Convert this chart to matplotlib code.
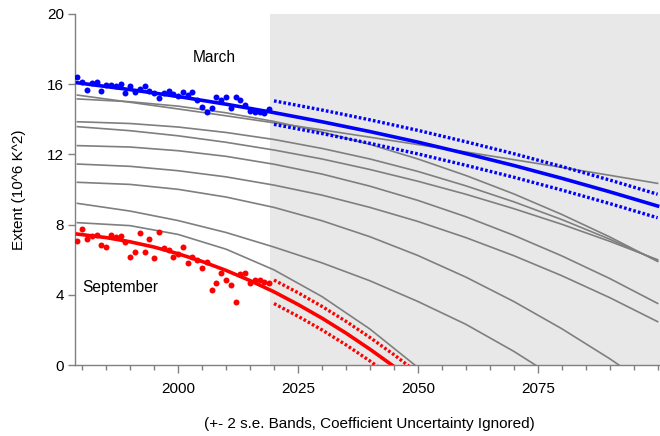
import matplotlib
matplotlib.use("Agg")
import matplotlib.pyplot as plt
from matplotlib.ticker import MultipleLocator

plt.rcParams['font.family'] = ['Liberation Sans', 'DejaVu Sans']

# ---- observed data (1979-2019) ----
obs_years = list(range(1979, 2020))
march_obs = [16.39, 16.12, 15.67, 16.09, 16.15, 15.61, 15.95, 15.95, 15.90, 16.01,
             15.48, 15.90, 15.54, 15.71, 15.90, 15.61, 15.52, 15.19, 15.52, 15.63,
             15.44, 15.33, 15.57, 15.40, 15.54, 15.10, 14.72, 14.43, 14.62, 15.29,
             15.10, 15.25, 14.62, 15.29, 15.10, 14.81, 14.49, 14.43, 14.43, 14.38, 14.57]
sept_obs = [7.08, 7.73, 7.16, 7.35, 7.41, 6.84, 6.74, 7.41, 7.31, 7.35,
            7.03, 6.14, 6.46, 7.50, 6.42, 7.16, 6.08, 7.58, 6.65, 6.55,
            6.17, 6.31, 6.74, 5.83, 6.14, 5.98, 5.51, 5.89, 4.27, 4.69,
            5.26, 4.84, 4.56, 3.61, 5.19, 5.26, 4.69, 4.84, 4.84, 4.75, 4.65]

# ---- fitted trends and +-2 s.e. forecast bands ----
march_trend_years = [1979, 1990, 2000, 2010, 2019, 2020, 2030, 2040, 2050, 2060, 2070, 2080, 2090, 2100]
march_trend = [16.08, 15.69, 15.30, 14.86, 14.43, 14.38, 13.86, 13.30, 12.70, 12.05, 11.37, 10.64, 9.87, 9.06]
march_band_years = [2020, 2030, 2040, 2050, 2060, 2070, 2080, 2090, 2100]
march_upper = [15.05, 14.53, 13.97, 13.37, 12.72, 12.04, 11.31, 10.54, 9.73]
march_lower = [13.71, 13.19, 12.63, 12.03, 11.38, 10.70, 9.97, 9.20, 8.39]

sept_trend_years = [1979, 1985, 1990, 1995, 2000, 2005, 2010, 2015, 2019, 2020, 2025, 2030, 2035, 2040, 2045, 2050]
sept_trend = [7.46, 7.26, 7.02, 6.72, 6.34, 5.90, 5.39, 4.81, 4.30, 4.17, 3.45, 2.67, 1.82, 0.90, -0.08, -1.13]
sept_band_years = [2020, 2025, 2030, 2035, 2040, 2045, 2050]
sept_upper = [4.84, 4.12, 3.34, 2.49, 1.57, 0.59, -0.46]
sept_lower = [3.50, 2.78, 2.00, 1.15, 0.23, -0.75, -1.80]

# ---- gray reference curves ----
gray_years = [1979, 1990, 2000, 2010, 2020, 2030, 2040, 2050, 2060, 2070, 2080, 2090, 2100]
gray_1 = [15.38, 14.97, 14.59, 14.20, 13.80, 13.40, 12.98, 12.56, 12.14, 11.70, 11.26, 10.81, 10.35]
gray_2 = [15.16, 15.00, 14.75, 14.37, 13.88, 13.28, 12.57, 11.74, 10.80, 9.75, 8.58, 7.30, 5.90]
gray_3 = [13.86, 13.76, 13.56, 13.25, 12.85, 12.34, 11.74, 11.03, 10.21, 9.30, 8.29, 7.17, 5.95]
gray_4 = [13.58, 13.35, 13.06, 12.69, 12.25, 11.74, 11.14, 10.47, 9.73, 8.91, 8.02, 7.05, 6.00]
gray_5 = [12.50, 12.42, 12.21, 11.89, 11.44, 10.88, 10.19, 9.38, 8.45, 7.39, 6.22, 4.93, 3.51]
gray_6 = [11.45, 11.32, 11.07, 10.72, 10.25, 9.68, 8.98, 8.18, 7.26, 6.23, 5.09, 3.84, 2.47]
gray_7 = [10.41, 10.29, 10.01, 9.57, 8.98, 8.22, 7.31, 6.24, 5.01, 3.62, 2.07, 0.36, -1.50]
gray_8 = [9.21, 8.77, 8.23, 7.55, 6.72, 5.82, 4.80, 3.62, 2.32, 0.78, -0.95, -2.80, -4.80]
gray_9 = [8.11, 7.94, 7.44, 6.60, 5.42, 3.90, 2.05, -0.14, -2.66, -5.5, -8.6, -12.0, -15.7]
gray_curves = [gray_1, gray_2, gray_3, gray_4, gray_5, gray_6, gray_7, gray_8, gray_9]

forecast_start = 2019.2
x_min, x_max = 1978.5, 2100.5

fig = plt.figure(figsize=(6.6, 4.36), dpi=100)
ax = fig.add_axes([75/660, 1-365/436, 585/660, 351/436])

ax.axvspan(forecast_start, x_max, color='#e8e8e8', lw=0, zorder=0)

for g in gray_curves:
    ax.plot(gray_years, g, color='#7f7f7f', lw=1.2, zorder=1)

band_style = dict(lw=2.4, linestyle=(0, (0.8, 0.64)), zorder=3)
ax.plot(march_band_years, march_upper, color='#0000ff', **band_style)
ax.plot(march_band_years, march_lower, color='#0000ff', **band_style)
ax.plot(sept_band_years, sept_upper, color='#ff0000', **band_style)
ax.plot(sept_band_years, sept_lower, color='#ff0000', **band_style)

ax.plot(march_trend_years, march_trend, color='#0000ff', lw=2.6, zorder=4)
ax.plot(sept_trend_years, sept_trend, color='#ff0000', lw=2.6, zorder=4)

ax.plot(obs_years, march_obs, 'o', color='#0000ff', ms=4.3, mec='none', zorder=5)
ax.plot(obs_years, sept_obs, 'o', color='#ff0000', ms=4.3, mec='none', zorder=5)

ax.set_xlim(x_min, x_max)
ax.set_ylim(0, 20)
ax.xaxis.set_major_locator(MultipleLocator(25))
ax.xaxis.set_minor_locator(MultipleLocator(5))
ax.yaxis.set_major_locator(MultipleLocator(4))

for s in ['top', 'right']:
    ax.spines[s].set_visible(False)
for s in ['left', 'bottom']:
    ax.spines[s].set_color('#808080')
    ax.spines[s].set_linewidth(1.0)

ax.tick_params(axis='x', which='major', length=6, width=1, color='#808080', labelsize=11, pad=6)
ax.tick_params(axis='x', which='minor', length=3.5, width=1, color='#808080')
ax.tick_params(axis='y', which='major', length=5, width=1, color='#808080', labelsize=11, pad=3)
ax.set_xticks([2000, 2025, 2050, 2075])
ax.set_xticklabels(['2000', '2025', '2050', '2075'])

ax.set_ylabel('Extent (10^6 K^2)', fontsize=11, labelpad=15)

fig.text(214/660, 1-58/436, 'March', fontsize=11.2, ha='center', va='center')
ax.text(1980.0, 4.4, 'September', fontsize=11.2, ha='left', va='center')
fig.text(369/660, 1-424/436, '(+- 2 s.e. Bands, Coefficient Uncertainty Ignored)',
         fontsize=11, ha='center', va='center')

fig.savefig('out.png', dpi=100)
